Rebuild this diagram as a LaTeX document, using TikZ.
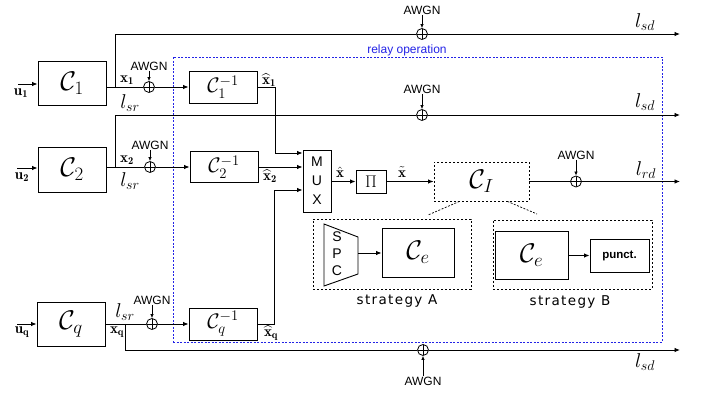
\RequirePackage{fix-cm}
\documentclass[tikz,border=0pt]{standalone}
\usepackage{fontspec}
\setsansfont{Liberation Sans}
\newfontfamily\dvs[LetterSpace=10]{DejaVu Sans}
\usetikzlibrary{arrows.meta,calc}
\definecolor{rblue}{RGB}{35,35,230}
\begin{document}
\begin{tikzpicture}[x=1pt,y=-1pt,
  blk/.style={draw, line width=0.9pt, inner sep=0pt},
  dbox/.style={draw, line width=0.8pt, dash pattern=on 2.4pt off 1.6pt, inner sep=0pt},
  ln/.style={line width=0.9pt},
  arr/.style={ln, -{Latex[length=5.5pt,width=4.5pt]}},
  arrs/.style={line width=0.7pt, -{Latex[length=4pt,width=3.5pt]}},
  sum/.style={circle, draw, line width=0.8pt, minimum size=11pt, inner sep=0pt,
    path picture={\draw[line width=0.8pt] (path picture bounding box.north) -- (path picture bounding box.south)
      (path picture bounding box.west) -- (path picture bounding box.east);}},
  aw/.style={font=\sffamily\fontsize{12}{14}\selectfont, inner sep=0.5pt},
  lbl/.style={inner sep=0pt, font=\fontsize{15}{17}\selectfont},
  ll/.style={inner sep=0pt, font=\fontsize{20}{24}\selectfont},
  bigC/.style={font=\fontsize{27}{30}\selectfont},
  invC/.style={font=\fontsize{21}{25}\selectfont},
  sans14/.style={font=\sffamily\fontsize{14}{17}\selectfont, align=center, inner sep=0pt},
  strat/.style={font=\dvs\fontsize{13.5}{15}\selectfont, inner sep=0pt}
]
\useasboundingbox (0,0) rectangle (702,395);

% relay container
\node[draw=rblue, line width=0.8pt, dash pattern=on 2pt off 1.5pt, minimum width=489, minimum height=285, inner sep=0pt] (relay) at (417.5,199.5) {};
\node[font=\sffamily\fontsize{12}{14}\selectfont, text=rblue, inner sep=0pt] (rl) at (407,50) {relay operation};

% ---------- source 1 ----------
\node[blk, minimum width=68, minimum height=44, bigC] (C1) at (72,83) {$\mathcal{C}_1$};
\coordinate (u1s) at (18,84);
\draw[arr] (u1s) -- (u1s -| C1.west);
\node[lbl] (u1) at (21,93) {$\mathbf{u_1}$};
\node[sum] (s1) at (149,87) {};
\node[blk, minimum width=68, minimum height=32, invC] (D1) at (223,87) {$\mathcal{C}_1^{-1}$};
\draw[ln] (C1.east |- s1) -- (s1);
\draw[arr] (s1) -- (D1);
\node[aw] (a1) at (149,66) {AWGN};
\draw[arrs] (a1) -- (s1);
\node[lbl] (x1) at (127,80) {$\mathbf{x_1}$};
\node[ll] (lsr1) at (130,103) {$l_{sr}$};
\node[lbl] (xh1) at (269,80) {$\mathbf{\hat{x}_1}$};
\coordinate (br1) at (115,87);
\node[sum] (t1) at (422,34) {};
\coordinate (e1) at (680,34);
\draw[ln] (br1) |- (t1);
\draw[arr] (t1) -- (e1);
\node[aw] (at1) at (422,10) {AWGN};
\draw[arrs] (at1) -- (t1);
\node[ll] (lsd1) at (645,22) {$l_{sd}$};

% ---------- source 2 ----------
\node[blk, minimum width=68, minimum height=45, bigC] (C2) at (72,169.5) {$\mathcal{C}_2$};
\coordinate (u2s) at (17,168);
\draw[arr] (u2s) -- (u2s -| C2.west);
\node[lbl] (u2) at (22,177) {$\mathbf{u_2}$};
\node[sum] (s2) at (150,167) {};
\node[blk, minimum width=68, minimum height=31, invC] (D2) at (224,167) {$\mathcal{C}_2^{-1}$};
\draw[ln] (C2.east |- s2) -- (s2);
\draw[arr] (s2) -- (D2);
\node[aw] (a2) at (150,145) {AWGN};
\draw[arrs] (a2) -- (s2);
\node[lbl] (x2) at (127,160) {$\mathbf{x_2}$};
\node[ll] (lsr2) at (130,181) {$l_{sr}$};
\node[lbl] (xh2) at (270,176) {$\mathbf{\hat{x}_2}$};
\coordinate (br2) at (115,167);
\node[sum] (t2) at (422,115) {};
\coordinate (e2) at (680,115);
\draw[ln] (br2) |- (t2);
\draw[arr] (t2) -- (e2);
\node[aw] (at2) at (422,89) {AWGN};
\draw[arrs] (at2) -- (t2);
\node[ll] (lsd2) at (645,102) {$l_{sd}$};

% ---------- source q ----------
\node[blk, minimum width=68, minimum height=44, bigC] (Cq) at (71,324) {$\mathcal{C}_q$};
\coordinate (uqs) at (17,324);
\draw[arr] (uqs) -- (uqs -| Cq.west);
\node[lbl] (uq) at (22,332) {$\mathbf{u_q}$};
\node[sum] (sq) at (152,324) {};
\node[blk, minimum width=68, minimum height=32, invC] (Dq) at (223,324) {$\mathcal{C}_q^{-1}$};
\draw[ln] (Cq.east |- sq) -- (sq);
\draw[arr] (sq) -- (Dq);
\node[aw] (aq) at (152,300) {AWGN};
\draw[arrs] (aq) -- (sq);
\node[lbl] (xq) at (117,332) {$\mathbf{x_q}$};
\node[ll] (lsrq) at (125,312) {$l_{sr}$};
\node[lbl] (xhq) at (271,333) {$\mathbf{\hat{x}_q}$};
\coordinate (brq) at (125,324);
\node[sum] (tq) at (423,350) {};
\coordinate (eq) at (680,350);
\draw[ln] (brq) |- (tq);
\draw[arr] (tq) -- (eq);
\node[aw] (atq) at (423,381) {AWGN};
\draw[arrs] (atq) -- (tq);
\node[ll] (lsdq) at (645,362) {$l_{sd}$};

% ---------- MUX chain ----------
\node[blk, minimum width=28, minimum height=62, font=\sffamily\fontsize{14}{19}\selectfont, align=center] (MUX) at (317,181) {M\\U\\X};
\draw[arr] (D1.east) -- (275,87) |- (MUX.west |- 0,153);
\draw[arr] (D2.east) -- (MUX.west |- D2.east);
\draw[arr] (Dq.east) -- (274,324) |- (MUX.west |- 0,190);

\node[blk, minimum width=30, minimum height=23, font=\fontsize{17}{20}\selectfont] (P) at (371,181.5) {$\Pi$};
\draw[arr] (MUX.east |- P) -- (P);
\node[lbl] (xh) at (340,172) {$\hat{\mathbf{x}}$};
\node[dbox, minimum width=95, minimum height=39, bigC] (CI) at (481.5,181.5) {$\mathcal{C}_I$};
\draw[arr] (P) -- (CI);
\node[lbl] (xt) at (402,172) {$\tilde{\mathbf{x}}$};
\node[sum] (tr) at (576,181.5) {};
\coordinate (er) at (680,181.5);
\draw[ln] (CI) -- (tr);
\draw[arr] (tr) -- (er);
\node[aw] (ar) at (576,155) {AWGN};
\draw[arrs] (ar) -- (tr);
\node[ll] (lrd) at (646,170) {$l_{rd}$};

% ---------- strategy A ----------
\node[dbox, minimum width=158, minimum height=70] (SA) at (392,254) {};
\draw[line width=0.9pt] (324,224) -- (358,237) -- (358,274) -- (324,286) -- cycle;
\node[sans14] (spc) at (337,254) {S\\P\\C};
\coordinate (spco) at (358,253);
\node[blk, minimum width=72, minimum height=49, bigC] (CeA) at (418,252.5) {$\mathcal{C}_e$};
\draw[arr] (spco) -- (CeA.west |- spco);
\node[strat] (sAl) at (397,301) {strategy A};

% ---------- strategy B ----------
\node[dbox, minimum width=159, minimum height=69] (SB) at (572.5,254.5) {};
\node[blk, minimum width=73, minimum height=48, bigC] (CeB) at (531.5,255) {$\mathcal{C}_e$};
\node[blk, minimum width=59, minimum height=33, font=\sffamily\bfseries\fontsize{11.5}{13}\selectfont] (pn) at (619.5,255.5) {punct.};
\draw[arr] (CeB.east |- pn) -- (pn);
\node[strat] (sBl) at (570,302) {strategy B};

% dashed zoom connectors
\coordinate (dA) at (428,215);
\coordinate (dB) at (537,214);
\draw[line width=0.7pt, dash pattern=on 2pt off 1.5pt] ($(CI.south west)!0.27!(CI.south east)$) -- (dA);
\draw[line width=0.7pt, dash pattern=on 2pt off 1.5pt] ($(CI.south west)!0.77!(CI.south east)$) -- (dB);
\end{tikzpicture}
\end{document}
